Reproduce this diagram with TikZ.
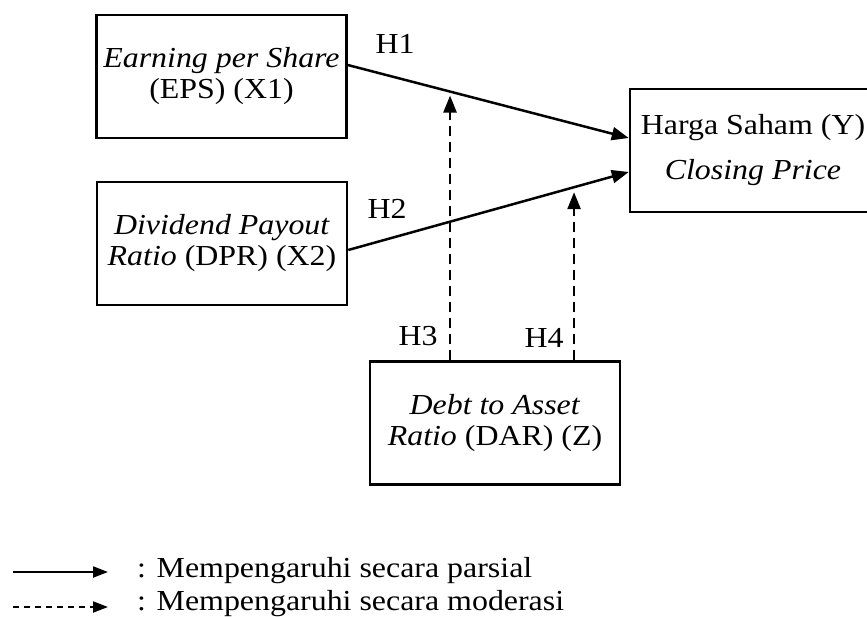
\documentclass[tikz,border=0pt]{standalone}
\usepackage{fontspec}
\setmainfont{Liberation Serif}[FakeStretch=1.1]
\usetikzlibrary{arrows.meta, positioning, calc}

\begin{document}
\begin{tikzpicture}[x=1pt, y=-1pt, font=\fontsize{29}{31}\selectfont, var/.style={draw, line width=2.5pt, minimum width=250pt, minimum height=123pt, align=center, inner sep=0pt}, ar/.style={-{Triangle[length=17pt, width=13pt]}, line width=2.5pt}, mod/.style={ar, dash pattern=on 10pt off 6pt}, lg/.style={-{Triangle[length=15pt, width=11pt]}, line width=2pt}, lbl/.style={inner sep=0pt}, legtxt/.style={inner sep=0pt, anchor=base west}]
\useasboundingbox (0,0) rectangle (867,617);
\node[var] (x1) at (221.5,76.5) {\textit{Earning per Share}\\(EPS) (X1)};
\node[var] (x2) at (222,243.5) {\textit{Dividend Payout}\\\textit{Ratio} (DPR) (X2)};
\node[var, minimum width=246pt] (y) at (753,150.5) {Harga Saham (Y)\\[14pt]\textit{Closing Price}};
\node[var] (z) at (495,423) {\textit{Debt to Asset}\\\textit{Ratio} (DAR) (Z)};
\draw[ar] ([yshift=11.5pt]x1.east) -- ([yshift=12.5pt]y.west);
\draw[ar] ([yshift=-6.5pt]x2.east) -- ([yshift=-21.5pt]y.west);
\coordinate (m1) at ($([yshift=11.5pt]x1.east)!0.364!([yshift=12.5pt]y.west)$);
\coordinate (m2) at ($([yshift=-6.5pt]x2.east)!0.805!([yshift=-21.5pt]y.west)$);
\draw[mod] (m1 |- z.north) -- ([yshift=-4pt]m1);
\draw[mod] (m2 |- z.north) -- ([yshift=-5pt]m2);
\node[lbl] (h1) at (395,44) {H1};
\node[lbl] (h2) at (387,209) {H2};
\node[lbl] (h3) at (418,336) {H3};
\node[lbl] (h4) at (544,338) {H4};
% legend
\coordinate (p1) at (13,572); \coordinate (q1) at (108,572);
\coordinate (p2) at (13,607); \coordinate (q2) at (108,607);
\draw[lg] (p1) -- (q1);
\draw[lg, dash pattern=on 6pt off 5pt] (p2) -- (q2);
\node[legtxt] (t1) at (137,577) {: Mempengaruhi secara parsial};
\node[legtxt] (t2) at (137,610) {: Mempengaruhi secara moderasi};
\end{tikzpicture}
\end{document}
